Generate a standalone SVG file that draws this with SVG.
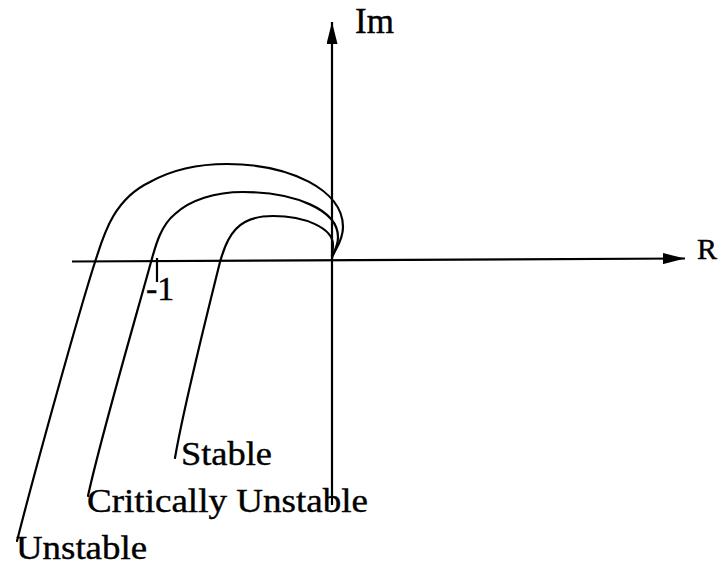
<svg xmlns="http://www.w3.org/2000/svg" width="719" height="565" viewBox="0 0 719 565">
  <style>
    .axis { stroke: #000; stroke-width: 2.2; fill: none; }
    .curve { stroke: #000; stroke-width: 2.2; fill: none; stroke-linecap: round; stroke-linejoin: round; }
    .lbl { font-family: "Liberation Serif", "Times New Roman", serif; fill: #000; stroke: #000; stroke-width: 0.4; }
  </style>
  <defs>
    <marker id="arrow" viewBox="0 0 22 11" refX="22" refY="5.5" markerWidth="22" markerHeight="11" markerUnits="userSpaceOnUse" orient="auto">
      <path d="M0,0 L22,5.5 L0,11 Z" fill="#000"/>
    </marker>
  </defs>
  <rect width="719" height="565" fill="#fff"/>

  <g id="connectors">
    <line id="re-axis" class="axis" x1="72" y1="261.5" x2="685" y2="258.5" marker-end="url(#arrow)"/>
    <line id="im-axis" class="axis" x1="332" y1="505" x2="332" y2="22" marker-end="url(#arrow)"/>
    <line id="tick" class="axis" x1="157" y1="258" x2="157" y2="282" stroke-width="1.6"/>
    <path id="curve-unstable" class="curve" d="M17,541 C35,470 78,315 95,262 C103,238 112,200 150,182 C175,168 200,164 227,164 C290,164 343,190 343,227 C343,242 334,250 332,258"/>
    <path id="curve-critical" class="curve" d="M88,496 C100,440 135,320 151,262 C155,248 160,226 175,214 C190,200 215,192 243,192 C295,192 338,210 338,237 C338,247 334,251 332,256"/>
    <path id="curve-stable" class="curve" d="M175,458 C183,410 208,310 220,262 C224,248 230,230 245,222 C252,218 262,216 273,216 C305,216 333,228 333,245 C333,250 332,253 332,256"/>
  </g>

  <g id="label-im"><text class="lbl" x="355" y="33" font-size="35">Im</text></g>
  <g id="label-re"><text class="lbl" x="697" y="259" font-size="30">R</text></g>
  <g id="label-minus1"><text class="lbl" x="146" y="300" font-size="34">-1</text></g>
  <g id="label-stable"><text class="lbl" x="181" y="465" font-size="34" textLength="91" lengthAdjust="spacingAndGlyphs">Stable</text></g>
  <g id="label-critical"><text class="lbl" x="87" y="512" font-size="34" textLength="281" lengthAdjust="spacingAndGlyphs">Critically Unstable</text></g>
  <g id="label-unstable"><text class="lbl" x="16" y="559" font-size="34" textLength="131" lengthAdjust="spacingAndGlyphs">Unstable</text></g>
</svg>
